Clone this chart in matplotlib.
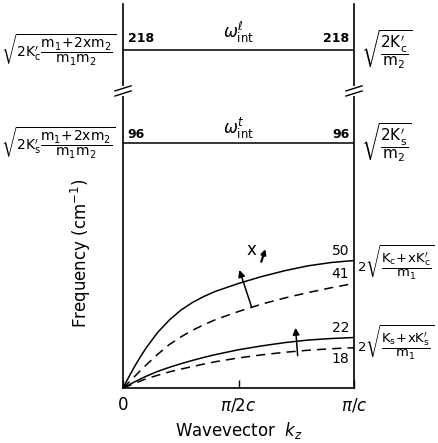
import matplotlib.pyplot as plt
import numpy as np

plt.rcParams['mathtext.fontset'] = 'dejavusans'
plt.rcParams['font.family'] = 'DejaVu Sans'

# wavevector as fraction of pi/c
kz = [0, 0.025, 0.05, 0.075, 0.1, 0.15, 0.2, 0.25, 0.3, 0.35, 0.4,
      0.5, 0.6, 0.7, 0.8, 0.9, 1.0]
# acoustic branches (cm^-1)
upper_solid = [0, 4.3, 8.4, 12.2, 15.7, 21.8, 26.6, 30.5, 33.5, 35.9, 37.9,
               41, 43.7, 46, 47.9, 49.2, 50]
upper_dashed = [0, 2.2, 4.5, 6.8, 9, 13.2, 17, 20, 22.6, 24.8, 26.8,
                30, 32.9, 35.3, 37.4, 39.3, 41]
lower_solid = [0, 1.2, 2.4, 3.5, 4.6, 6.5, 8.1, 9.5, 10.8, 12, 13.1,
               15, 16.5, 17.8, 18.8, 19.4, 19.8]
lower_dashed = [0, 0.9, 1.8, 2.7, 3.6, 5.0, 6.3, 7.4, 8.4, 9.4, 10.3,
                11.8, 13.0, 14.0, 14.8, 15.4, 15.8]
# flat internal modes
w_int_l = 218
w_int_t = 96
end_labels = ['50', '41', '22', '18']
xtick_pos = [0, 0.5, 1.0]
xtick_labels = ['0', r'$\pi/2c$', r'$\pi/c$']

# broken axis: squash everything above 100
BRK = 100.0
K = 0.2754


def fwd(v):
    v = np.asarray(v, dtype=float)
    return np.where(v <= BRK, v, BRK + (v - BRK) * K)


def inv(u):
    u = np.asarray(u, dtype=float)
    return np.where(u <= BRK, u, BRK + (u - BRK) / K)


fig = plt.figure(figsize=(4.38, 4.43), dpi=100)
ax = fig.add_axes([123 / 438, 55 / 443, 231 / 438, 384 / 443])
ax.set_yscale('function', functions=(fwd, inv))
ax.set_xlim(0, 1)
ax.set_ylim(0, float(inv(150.6)))

lw = 1.1
ax.plot(kz, upper_solid, color='black', lw=lw)
ax.plot(kz, upper_dashed, color='black', lw=lw, ls=(0, (6, 4)))
ax.plot(kz, lower_solid, color='black', lw=lw)
ax.plot(kz, lower_dashed, color='black', lw=lw, ls=(0, (6, 4)))
ax.hlines([w_int_l, w_int_t], 0, 1, color='black', lw=lw)

ax.spines['top'].set_visible(False)
for s in ['left', 'right', 'bottom']:
    ax.spines[s].set_linewidth(1.2)

ax.set_yticks([])
ax.set_xticks(xtick_pos)
ax.set_xticklabels(xtick_labels, fontsize=12)
ax.tick_params(axis='x', direction='in', length=6, width=1, pad=6)
ax.set_xlabel(r'Wavevector  $k_z$', fontsize=12, labelpad=4)
ax.set_ylabel(r'Frequency (cm$^{-1}$)', fontsize=12)
ax.yaxis.set_label_coords(-0.13, 0.35)

# break marks on both vertical axes
for xb in [0, 1]:
    ax.plot([xb, xb], [inv(115.3), inv(117.7)], color='white', lw=3,
            clip_on=False, zorder=5)
    for dy in [-1.0, 1.0]:
        y0 = float(inv(116.5 + dy - 1.0))
        y1 = float(inv(116.5 + dy + 1.0))
        ax.plot([xb - 0.035, xb + 0.035], [y0, y1], color='black', lw=1.0,
                clip_on=False, zorder=6)

# numeric labels
ax.text(0.02, w_int_l + 8, '218', fontsize=9, fontweight='bold', va='bottom')
ax.text(0.98, w_int_l + 8, '218', fontsize=9, fontweight='bold', va='bottom', ha='right')
ax.text(0.02, w_int_t + 1, '96', fontsize=9, fontweight='bold', va='bottom')
ax.text(0.98, w_int_t + 1, '96', fontsize=9, fontweight='bold', va='bottom', ha='right')
ax.text(0.5, w_int_l + 8, r'$\omega^{\ell}_{\mathrm{int}}$', fontsize=12, ha='center', va='bottom')
ax.text(0.5, w_int_t + 1, r'$\omega^{t}_{\mathrm{int}}$', fontsize=12, ha='center', va='bottom')

ends = [upper_solid[-1], upper_dashed[-1], lower_solid[-1], lower_dashed[-1]]
offs = [1.0, 1.0, 1.0, -1.5]
vas = ['bottom', 'bottom', 'bottom', 'top']
for lab, yv, o, va in zip(end_labels, ends, offs, vas):
    ax.text(0.98, yv + o, lab, fontsize=10, ha='right', va=va)

# arrows showing increasing x
ax.annotate('', xy=(0.50, 47.3), xytext=(0.561, 30.6),
            arrowprops=dict(arrowstyle='-|>', color='black', lw=1.1, mutation_scale=10))
ax.annotate('', xy=(0.746, 24.7), xytext=(0.757, 11.6),
            arrowprops=dict(arrowstyle='-|>', color='black', lw=1.1, mutation_scale=10))
ax.text(0.555, 50.5, 'x', fontsize=12, ha='center', va='bottom')
ax.annotate('', xy=(0.62, 55.5), xytext=(0.595, 48.5),
            arrowprops=dict(arrowstyle='-|>', color='black', lw=1.6, mutation_scale=7))

# formulas at the sides
fs = 10
ax.text(-0.03, w_int_l, r'$\sqrt{2\mathrm{K}^{\prime}_{\mathrm{c}}\dfrac{\mathrm{m_1\!+\!2xm_2}}{\mathrm{m_1m_2}}}$',
        fontsize=fs, ha='right', va='center')
ax.text(-0.03, w_int_t, r'$\sqrt{2\mathrm{K}^{\prime}_{\mathrm{s}}\dfrac{\mathrm{m_1\!+\!2xm_2}}{\mathrm{m_1m_2}}}$',
        fontsize=fs, ha='right', va='center')
ax.text(1.03, w_int_l, r'$\sqrt{\dfrac{2\mathrm{K}^{\prime}_{\mathrm{c}}}{\mathrm{m_2}}}$',
        fontsize=11, ha='left', va='center')
ax.text(1.03, w_int_t, r'$\sqrt{\dfrac{2\mathrm{K}^{\prime}_{\mathrm{s}}}{\mathrm{m_2}}}$',
        fontsize=11, ha='left', va='center')
ax.text(1.015, upper_solid[-1] - 1, r'$2\sqrt{\dfrac{\mathrm{K_c\!+\!xK^{\prime}_c}}{\mathrm{m_1}}}$',
        fontsize=9.5, ha='left', va='center')
ax.text(1.015, lower_solid[-1] - 2, r'$2\sqrt{\dfrac{\mathrm{K_s\!+\!xK^{\prime}_s}}{\mathrm{m_1}}}$',
        fontsize=9.5, ha='left', va='center')

fig.savefig('out.png', dpi=100)
